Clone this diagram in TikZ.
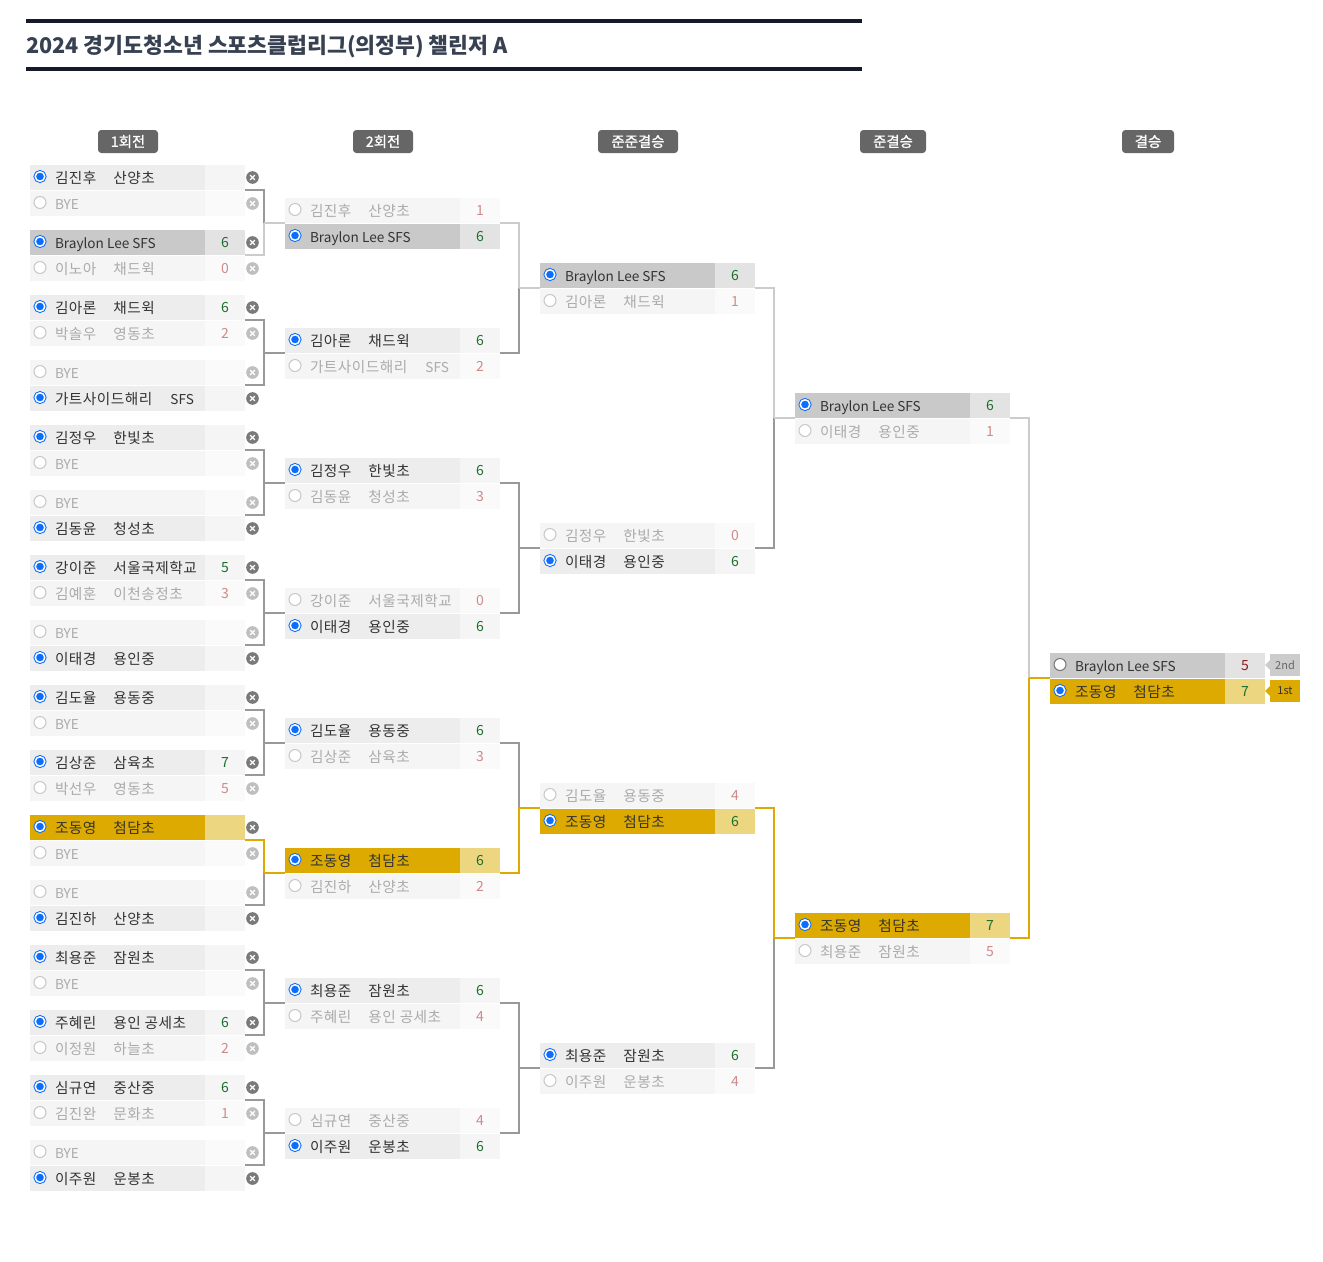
\documentclass[tikz,border=0pt]{standalone}
\usepackage{fontspec}
\setmainfont{Noto Sans CJK KR}
\newfontfamily\hanf{Noto Sans CJK KR}[LetterSpace=3.4]
\newfontfamily\tagf{Noto Sans CJK KR}[FakeBold=1]
\usetikzlibrary{calc}
\definecolor{cblue}{HTML}{0D6EFD}
\definecolor{cgold}{HTML}{DCAA00}
\definecolor{cgoldl}{HTML}{EDD680}
\definecolor{cdark}{HTML}{999999}
\definecolor{clight}{HTML}{CCCCCC}
\definecolor{crule}{HTML}{141A2C}
\definecolor{ctitle}{HTML}{374151}
\definecolor{ctext}{HTML}{333333}
\definecolor{cdim}{HTML}{ABABAB}
\definecolor{cwin}{HTML}{1F6E2E}
\definecolor{close}{HTML}{D08A8A}
\definecolor{closef}{HTML}{8B1A1A}
\tikzset{
  boxbase/.style={inner sep=0pt,outer sep=0pt,anchor=north west,minimum height=18.75pt,font=\fontsize{10.5pt}{12pt}\selectfont},
  nmbox/.style={boxbase,minimum width=131.25pt},
  scbox/.style={boxbase,minimum width=30pt},
  label/.style={inner sep=0pt,outer sep=0pt,anchor=base west,font=\hanf\fontsize{11pt}{12pt}\selectfont},
  nm-w/.style={fill=black!7},          sc-w/.style={fill=black!4,text=cwin},   tx-w/.style={text=ctext},
  nm-l/.style={fill=black!4},          sc-l/.style={fill=black!2,text=close},  tx-l/.style={text=cdim},
  nm-g/.style={fill=black!21},         sc-g/.style={fill=black!11,text=cwin},  tx-g/.style={text=ctext},
  nm-f/.style={fill=black!21},         sc-f/.style={fill=black!11,text=closef},tx-f/.style={text=ctext},
  nm-y/.style={fill=cgold},            sc-y/.style={fill=cgoldl,text=cwin},    tx-y/.style={text=ctext},
  radbase/.style={circle,inner sep=0pt,outer sep=0pt},
  rad-on/.style={radbase,minimum size=7.1pt,draw=cblue,fill=cblue,line width=.75pt,double=white,double distance=1.1pt},
  rad-off/.style={radbase,minimum size=9pt,draw=black!22,fill=white,line width=.75pt},
  rad-w/.style={rad-on}, rad-g/.style={rad-on}, rad-y/.style={rad-on},
  rad-l/.style={rad-off},
  rad-f/.style={radbase,minimum size=9pt,draw=black!55,fill=white,line width=.75pt},
  ico/.style={circle,inner sep=0pt,outer sep=0pt,minimum size=9.5pt},
  ico-w/.style={ico,fill=black!52}, ico-g/.style={ico-w}, ico-y/.style={ico-w},
  ico-l/.style={ico,fill=black!25},
  icx/.style={draw=white,line width=1pt,line cap=round},
  conn/.style={line width=1.5pt},
  tag/.style={rounded corners=2.5pt,fill=black!60,text=white,inner sep=0pt,minimum height=17.25pt,font=\tagf\fontsize{10.8pt}{12pt}\selectfont},
  badge/.style={inner sep=0pt,outer sep=0pt,minimum width=22.5pt,minimum height=16.5pt,anchor=north west,font=\fontsize{8.25pt}{10pt}\selectfont},
}
\newcommand{\gp}{\hspace{12.75pt}}
\newcommand{\lat}[1]{{\normalfont\fontsize{10.2pt}{12pt}\selectfont #1}}
\newcommand{\dn}[1]{\raisebox{-.75pt}{#1}}
% \prow{id}{x}{y}{state}{text}{score}
\newcommand{\prow}[6]{%
  \node[nmbox,nm-#4] (#1) at (#2,#3) {};
  \node[scbox,sc-#4,anchor=north west] (#1s) at (#1.north east) {\dn{#6}};
  \node[label,tx-#4] (#1t) at ($(#1.north west)+(25,18.5)$) {#5};
  \node[rad-#4] (#1r) at ($(#1.north west)+(10,11.5)$) {};
}
% \pmatch{id}{x}{y}{stateA}{textA}{scoreA}{stateB}{textB}{scoreB}
\newcommand{\pmatch}[9]{%
  \prow{#1a}{#2}{#3}{#4}{#5}{#6}%
  \pmatchb{#1b}{#2}{#3}{#7}{#8}{#9}%
}
\newcommand{\pmatchb}[6]{%
  \prow{#1}{#2}{#3+26}{#4}{#5}{#6}%
}
% first-round cross icon beside a row
\newcommand{\pico}[2]{%
  \node[ico-#2] (#1i) at ($(#1s.east)+(7.5,0)$) {};
  \draw[icx] ($(#1i)+(-2.2,-2.2)$) -- ($(#1i)+(2.2,2.2)$);
  \draw[icx] ($(#1i)+(-2.2,2.2)$) -- ($(#1i)+(2.2,-2.2)$);
}
% \rone{id}{y}{stateA}{textA}{scoreA}{stateB}{textB}{scoreB}
\newcommand{\rone}[8]{%
  \pmatch{#1}{30}{#2}{#3}{#4}{#5}{#6}{#7}{#8}%
  \pico{#1a}{#3}\pico{#1b}{#6}%
}
% \bracket{A}{colA}{B}{colB}{T}{colT}
\newcommand{\bracket}[6]{%
  \coordinate (j#5) at ($(#5a.south west)+(-21,0)$);
  \draw[conn,#2] (#1as.south east) -| (j#5);
  \draw[conn,#4] (#3as.south east) -| (j#5);
  \draw[conn,#6] (j#5) -- (#5a.south west);
}
\newcommand{\BL}{\lat{Braylon Lee SFS}}
\newcommand{\BY}{\lat{BYE}}
\newcommand{\GT}{가트사이드해리\hspace{13.5pt}\lat{SFS}}
\begin{document}
\begin{tikzpicture}[x=0.75pt,y=-0.75pt]
\useasboundingbox (0,0) rectangle (1323,1261);
\fill[white] (0,0) rectangle (1323,1261);
% title
\coordinate (ra) at (26,21);
\coordinate (rb) at (862,21);
\coordinate (rc) at (26,69);
\coordinate (rd) at (862,69);
\draw[crule,line width=3pt] (ra) -- (rb);
\draw[crule,line width=3pt] (rc) -- (rd);
\node[inner sep=0pt,anchor=base west,text=ctitle,font=\bfseries\fontsize{16.2pt}{18pt}\selectfont] (title) at (26,53.5) {2024 경기도청소년 스포츠클럽리그(의정부) 챌린저 A};
% round tags
\node[tag,minimum width=45pt] (h1) at (128,141.5) {\dn{1회전}};
\node[tag,minimum width=45pt] (h2) at (383,141.5) {\dn{2회전}};
\node[tag,minimum width=60pt] (h3) at (638,141.5) {\dn{준준결승}};
\node[tag,minimum width=49.5pt] (h4) at (893,141.5) {\dn{준결승}};
\node[tag,minimum width=39pt] (h5) at (1148,141.5) {\dn{결승}};
% round 1
\rone{a1}{165}{w}{김진후\gp 산양초}{}{l}{\BY}{}
\rone{a2}{230}{g}{\BL}{6}{l}{이노아\gp 채드윅}{0}
\rone{a3}{295}{w}{김아론\gp 채드윅}{6}{l}{박솔우\gp 영동초}{2}
\rone{a4}{360}{l}{\BY}{}{w}{\GT}{}
\rone{a5}{425}{w}{김정우\gp 한빛초}{}{l}{\BY}{}
\rone{a6}{490}{l}{\BY}{}{w}{김동윤\gp 청성초}{}
\rone{a7}{555}{w}{강이준\gp 서울국제학교}{5}{l}{김예훈\gp 이천송정초}{3}
\rone{a8}{620}{l}{\BY}{}{w}{이태경\gp 용인중}{}
\rone{a9}{685}{w}{김도율\gp 용동중}{}{l}{\BY}{}
\rone{a10}{750}{w}{김상준\gp 삼육초}{7}{l}{박선우\gp 영동초}{5}
\rone{a11}{815}{y}{조동영\gp 첨담초}{}{l}{\BY}{}
\rone{a12}{880}{l}{\BY}{}{w}{김진하\gp 산양초}{}
\rone{a13}{945}{w}{최용준\gp 잠원초}{}{l}{\BY}{}
\rone{a14}{1010}{w}{주혜린\gp 용인 공세초}{6}{l}{이정원\gp 하늘초}{2}
\rone{a15}{1075}{w}{심규연\gp 중산중}{6}{l}{김진완\gp 문화초}{1}
\rone{a16}{1140}{l}{\BY}{}{w}{이주원\gp 운봉초}{}
% round 2
\pmatch{b1}{285}{198}{l}{김진후\gp 산양초}{1}{g}{\BL}{6}
\pmatch{b2}{285}{328}{w}{김아론\gp 채드윅}{6}{l}{\GT}{2}
\pmatch{b3}{285}{458}{w}{김정우\gp 한빛초}{6}{l}{김동윤\gp 청성초}{3}
\pmatch{b4}{285}{588}{l}{강이준\gp 서울국제학교}{0}{w}{이태경\gp 용인중}{6}
\pmatch{b5}{285}{718}{w}{김도율\gp 용동중}{6}{l}{김상준\gp 삼육초}{3}
\pmatch{b6}{285}{848}{y}{조동영\gp 첨담초}{6}{l}{김진하\gp 산양초}{2}
\pmatch{b7}{285}{978}{w}{최용준\gp 잠원초}{6}{l}{주혜린\gp 용인 공세초}{4}
\pmatch{b8}{285}{1108}{l}{심규연\gp 중산중}{4}{w}{이주원\gp 운봉초}{6}
% round 3
\pmatch{c1}{540}{263}{g}{\BL}{6}{l}{김아론\gp 채드윅}{1}
\pmatch{c2}{540}{523}{l}{김정우\gp 한빛초}{0}{w}{이태경\gp 용인중}{6}
\pmatch{c3}{540}{783}{l}{김도율\gp 용동중}{4}{y}{조동영\gp 첨담초}{6}
\pmatch{c4}{540}{1043}{w}{최용준\gp 잠원초}{6}{l}{이주원\gp 운봉초}{4}
% round 4
\pmatch{d1}{795}{393}{g}{\BL}{6}{l}{이태경\gp 용인중}{1}
\pmatch{d2}{795}{913}{y}{조동영\gp 첨담초}{7}{l}{최용준\gp 잠원초}{5}
% final
\pmatch{e1}{1050}{653}{f}{\BL}{5}{y}{조동영\gp 첨담초}{7}
% badges
\node[badge,fill=clight,text=black!60] (b2nd) at (1270,654) {2nd};
\fill[clight] ($(b2nd.west)+(-5,0)$) -- ($(b2nd.west)+(0,-5)$) -- ($(b2nd.west)+(0,5)$) -- cycle;
\node[badge,fill=cgold,text=ctext] (b1st) at (1270,680) {1st};
\fill[cgold] ($(b1st.west)+(-5,0)$) -- ($(b1st.west)+(0,-5)$) -- ($(b1st.west)+(0,5)$) -- cycle;
% connectors, round 1 to round 2
\bracket{a1}{cdark}{a2}{clight}{b1}{clight}
\bracket{a3}{cdark}{a4}{cdark}{b2}{cdark}
\bracket{a5}{cdark}{a6}{cdark}{b3}{cdark}
\bracket{a7}{cdark}{a8}{cdark}{b4}{cdark}
\bracket{a9}{cdark}{a10}{cdark}{b5}{cdark}
\bracket{a12}{cdark}{a11}{cgold}{b6}{cgold}
\bracket{a13}{cdark}{a14}{cdark}{b7}{cdark}
\bracket{a15}{cdark}{a16}{cdark}{b8}{cdark}
% round 2 to round 3
\bracket{b2}{cdark}{b1}{clight}{c1}{clight}
\bracket{b3}{cdark}{b4}{cdark}{c2}{cdark}
\bracket{b5}{cdark}{b6}{cgold}{c3}{cgold}
\bracket{b7}{cdark}{b8}{cdark}{c4}{cdark}
% round 3 to round 4
\bracket{c2}{cdark}{c1}{clight}{d1}{clight}
\bracket{c4}{cdark}{c3}{cgold}{d2}{cgold}
% round 4 to final
\bracket{d1}{clight}{d2}{cgold}{e1}{cgold}
\end{tikzpicture}
\end{document}
